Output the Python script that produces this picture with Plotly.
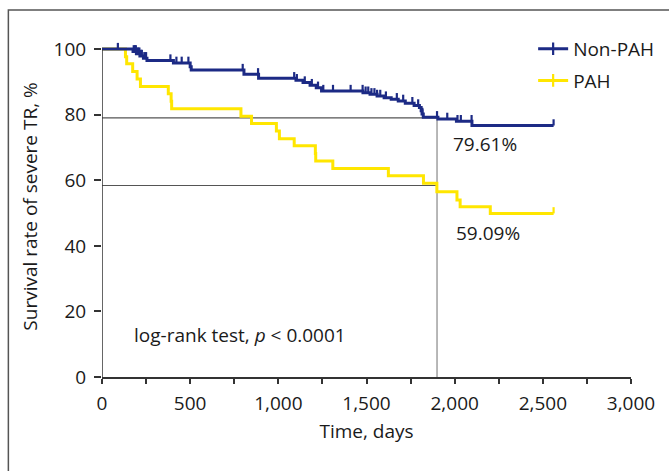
import numpy as np
import plotly.graph_objects as go

# ---------------- data ----------------
# Non-PAH: Kaplan-Meier step points (time in days, survival %)
nonpah_t = [0, 176, 195, 215, 235, 255, 405, 500, 506, 805, 888, 1100, 1140, 1180, 1215, 1245,
            1480, 1520, 1560, 1600, 1640, 1680, 1720, 1770, 1800, 1810, 1815, 1822, 1905, 2010, 2098, 2561]
nonpah_s = [100, 99.3, 98.6, 97.9, 97.2, 96.5, 95.8, 94.6, 93.6, 92.3, 91.1, 90.5, 89.8, 89.0, 88.2, 87.2,
            86.7, 86.2, 85.7, 85.2, 84.7, 84.2, 83.5, 82.8, 82.2, 81.2, 80.2, 79.2, 78.7, 78.0, 76.7, 76.7]
nonpah_cens = [90, 180, 186, 192, 200, 206, 212, 220, 226, 240, 250, 388, 422, 452, 490, 798, 885,
               1090, 1105, 1150, 1190, 1225, 1255, 1310, 1410, 1478, 1495, 1510, 1528, 1545, 1560,
               1578, 1610, 1672, 1708, 1760, 1793, 1817, 1900, 1958, 2016, 2035, 2096, 2561]

# PAH
pah_t = [0, 133, 140, 174, 199, 218, 376, 392, 395, 788, 848, 989, 1006, 1090, 1210, 1212, 1309,
         1624, 1823, 1899, 2013, 2031, 2202, 2561]
pah_s = [100, 97.7, 95.5, 93.2, 90.9, 88.6, 86.4, 84.1, 81.8, 79.5, 77.3, 75.0, 72.7, 70.5, 68.2, 65.9, 63.6,
         61.4, 59.1, 56.5, 54.0, 51.9, 49.9, 49.9]
pah_cens = [2561]

# reference lines / labels
ref_time = 1900
ref_nonpah = 79.0
ref_pah = 58.4
label_nonpah = "79.61%"
label_pah = "59.09%"
test_text = "log-rank test, <i>p</i> &lt; 0.0001"

x_ticks = [0, 500, 1000, 1500, 2000, 2500, 3000]
y_ticks = [0, 20, 40, 60, 80, 100]

# ---------------- styles ----------------
BLUE = "#1c2a85"
YELLOW = "#ffe600"
FONT = "Open Sans"
FS = 19
TXT = "#1a1a1a"
TICK_UP = 1.9  # censor tick height in %


def step_value(t_arr, s_arr, t):
    idx = np.searchsorted(np.asarray(t_arr), t, side="right") - 1
    return np.asarray(s_arr)[idx]


def censor_segments(t_arr, s_arr, cens):
    xs, ys = [], []
    for c in cens:
        v = float(step_value(t_arr, s_arr, c))
        xs += [c, c, None]
        ys += [v, v + TICK_UP, None]
    return xs, ys


fig = go.Figure()

# reference lines
fig.add_trace(go.Scatter(x=[0, ref_time], y=[ref_nonpah, ref_nonpah], mode="lines",
                         line=dict(color="#555555", width=1.2), showlegend=False, hoverinfo="skip"))
fig.add_trace(go.Scatter(x=[0, ref_time], y=[ref_pah, ref_pah], mode="lines",
                         line=dict(color="#555555", width=1.2), showlegend=False, hoverinfo="skip"))
fig.add_trace(go.Scatter(x=[ref_time, ref_time], y=[0, ref_nonpah], mode="lines",
                         line=dict(color="#999999", width=1.4), showlegend=False, hoverinfo="skip"))

for t_arr, s_arr, cens, col in [(pah_t, pah_s, pah_cens, YELLOW), (nonpah_t, nonpah_s, nonpah_cens, BLUE)]:
    fig.add_trace(go.Scatter(x=t_arr, y=s_arr, mode="lines", line=dict(color=col, width=3, shape="hv"),
                             showlegend=False, hoverinfo="skip"))
    cx, cy = censor_segments(t_arr, s_arr, cens)
    fig.add_trace(go.Scatter(x=cx, y=cy, mode="lines", line=dict(color=col, width=2.2),
                             showlegend=False, hoverinfo="skip"))

# legend entries
for name, col, grp in [("Non-PAH", BLUE, "a"), ("PAH", YELLOW, "b")]:
    fig.add_trace(go.Scatter(x=[None], y=[None], mode="lines+markers", name=name, legendgroup=grp,
                             line=dict(color=col, width=3),
                             marker=dict(symbol="line-ns", size=9, color=col, line=dict(color=col, width=2.2))))

# y axis line (only to 100)
fig.add_shape(type="line", xref="x", yref="y", x0=0, x1=0, y0=0, y1=100,
              line=dict(color="#333333", width=1.5), layer="above")
# outer frame
fig.add_shape(type="rect", xref="paper", yref="paper", x0=-0.177, x1=1.3, y0=-0.5, y1=1.076,
              line=dict(color="#555555", width=1.5), layer="below")

fig.add_annotation(x=1979, y=71.1, xref="x", yref="y", text=label_nonpah, showarrow=False,
                   xanchor="left", yanchor="middle", font=dict(size=FS, color=TXT, family=FONT))
fig.add_annotation(x=1996, y=43.9, xref="x", yref="y", text=label_pah, showarrow=False,
                   xanchor="left", yanchor="middle", font=dict(size=FS, color=TXT, family=FONT))
fig.add_annotation(x=170, y=12.8, xref="x", yref="y", text=test_text, showarrow=False,
                   xanchor="left", yanchor="middle", font=dict(size=FS, color=TXT, family=FONT))

fig.update_layout(
    width=669, height=471,
    margin=dict(l=102, r=38, t=36, b=94, autoexpand=False),
    paper_bgcolor="white", plot_bgcolor="white",
    font=dict(family=FONT, size=FS, color=TXT),
    legend=dict(x=0.815, y=1.018, xanchor="left", yanchor="top", bgcolor="rgba(0,0,0,0)",
                font=dict(size=FS, color=TXT, family=FONT), tracegroupgap=4, traceorder="grouped"),
    xaxis=dict(range=[0, 3000], tickvals=x_ticks, tickformat=",", showgrid=False, zeroline=False,
               automargin=False,
               showline=True, linecolor="#333333", linewidth=1.5,
               ticks="outside", ticklen=5, tickwidth=1.5, tickcolor="#333333",
               minor=dict(ticks="outside", dtick=250, ticklen=5, tickwidth=1.5, tickcolor="#333333"),
               ticklabelstandoff=3,
               title=dict(text="Time, days", font=dict(size=FS, color=TXT, family=FONT), standoff=10)),
    yaxis=dict(range=[0, 104], tickvals=y_ticks, showgrid=False, zeroline=False, showline=False,
               automargin=False,
               ticks="outside", ticklen=7, tickwidth=1.5, tickcolor="#333333", ticklabelstandoff=4,
               title=dict(text="Survival rate of severe TR, %", font=dict(size=FS, color=TXT, family=FONT),
                          standoff=10)),
)

fig.write_html("out.html")
